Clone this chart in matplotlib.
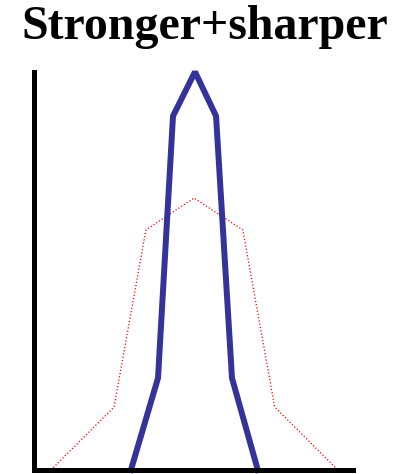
import matplotlib
matplotlib.use("Agg")
import matplotlib.pyplot as plt

# x positions and heights of the two profiles (axis units 0..10)
strong_x = [3.04, 3.89, 4.36, 5.05, 5.71, 6.21, 7.02]
strong_y = [0.0, 2.31, 8.89, 10.0, 8.89, 2.31, 0.0]
weak_x = [0.53, 2.51, 3.51, 5.02, 6.55, 7.55, 9.53]
weak_y = [0.0, 1.58, 6.03, 6.83, 6.03, 1.58, 0.0]
title = "Stronger+sharper"

fig = plt.figure(figsize=(4.13, 4.74), dpi=100)
ax = fig.add_axes([0.0823, 0.0084, 0.772, 0.840])

ax.plot(weak_x, weak_y, color="red", linestyle=":", linewidth=0.9, clip_on=False)
ax.plot(strong_x, strong_y, color="#333399", linewidth=4.3, clip_on=False,
        solid_joinstyle="bevel")

ax.set_xlim(0, 10)
ax.set_ylim(0, 10)
for side in ("top", "right"):
    ax.spines[side].set_visible(False)
for side in ("left", "bottom"):
    ax.spines[side].set_linewidth(3.6)
    ax.spines[side].set_color("black")
ax.set_xticks([])
ax.set_yticks([])

fig.text(0.497, 0.918, title, ha="center", va="baseline", fontsize=34.5,
         fontweight="bold", family="Liberation Serif")

fig.savefig("out.png", dpi=100)
